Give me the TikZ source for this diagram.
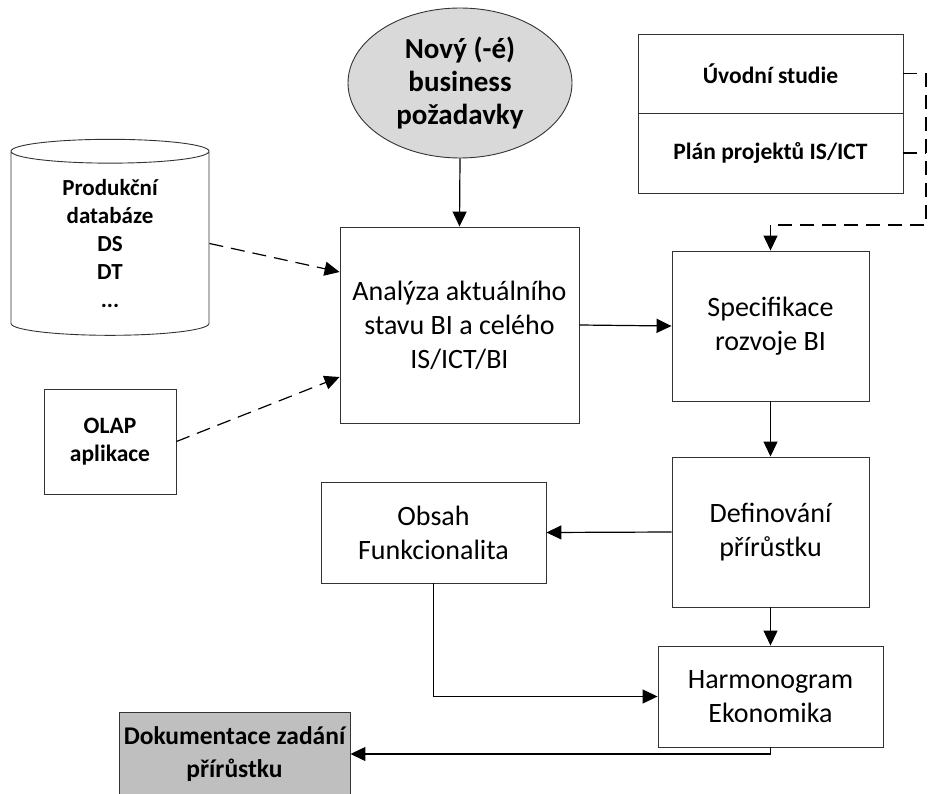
\documentclass[tikz,border=0pt]{standalone}
\usepackage{fontspec}
\setmainfont{Carlito}
\usetikzlibrary{shapes.geometric,arrows.meta}
\definecolor{goalgray}{RGB}{217,217,217}
\definecolor{resultgray}{RGB}{191,191,191}
\tikzset{
  box/.style={draw=black!80, line width=0.9pt, rectangle, align=center, inner sep=0pt,
    font=\fontsize{28}{34}\selectfont},
  boldbox/.style={box, font=\fontsize{23.5}{28}\selectfont\bfseries},
  goal/.style={draw=black!80, line width=0.9pt, ellipse, fill=goalgray, align=center, inner sep=0pt,
    minimum width=224pt, minimum height=150pt, font=\fontsize{29}{33}\selectfont\bfseries},
  database/.style={draw=black!80, line width=0.9pt, cylinder, shape border rotate=90, aspect=0.25,
    align=center, inner sep=0pt, minimum width=198pt, minimum height=196pt,
    font=\fontsize{23}{28}\selectfont\bfseries},
  result/.style={box, fill=resultgray, font=\fontsize{25.5}{33}\selectfont\bfseries},
  arrow/.style={line width=1.2pt, -{Triangle[length=15pt,width=14pt]}},
  dashedline/.style={line width=1.2pt, dash pattern=on 14pt off 8pt},
  dashedarrow/.style={dashedline, -{Triangle[length=15pt,width=14pt]}}
}
\begin{document}
\begin{tikzpicture}[x=1pt,y=-1pt]
  \useasboundingbox (0,0) rectangle (928,794);
  \node[goal] (pozadavky) at (460,83) {Nový (-é)\\business\\požadavky};
  \node[box, minimum width=239pt, minimum height=196pt] (analyza) at (459.5,325)
    {Analýza aktuálního\\stavu BI a celého\\IS/ICT/BI};
  \node[database] (databaze) at (110,243.5) {Produkční\\databáze\\DS\\DT\\...};
  \node[boldbox, minimum width=132pt, minimum height=105pt] (olap) at (110,441.5) {OLAP\\aplikace};
  \node[boldbox, minimum width=265pt, minimum height=79pt] (studie) at (770.5,73.5) {Úvodní studie};
  \node[boldbox, minimum width=265pt, minimum height=80pt] (plan) at (770.5,153) {Plán projektů IS/ICT};
  \node[box, minimum width=197pt, minimum height=150pt] (specifikace) at (770.5,326) {Specifikace\\rozvoje BI};
  \node[box, minimum width=197pt, minimum height=150pt] (definovani) at (770.5,532) {Definování\\přírůstku};
  \node[box, minimum width=225pt, minimum height=101pt] (obsah) at (433.5,532.5) {Obsah\\Funkcionalita};
  \node[box, minimum width=225pt, minimum height=101pt] (harmonogram) at (770.5,696.5) {Harmonogram\\Ekonomika};
  \node[result, minimum width=231pt, minimum height=84pt] (dokumentace) at (234.5,754)
    {Dokumentace zadání\\přírůstku};
  \coordinate (ohyb) at (926,225);

  \begin{scope}[arrow]
    \draw (pozadavky.south) -- (analyza.north);
    \draw (analyza.east) -- (specifikace.west);
    \draw (specifikace.south) -- (definovani.north);
    \draw (definovani.west) -- (obsah.east);
    \draw (definovani.south) -- (harmonogram.north);
    \draw (obsah.south) |- (harmonogram.west);
    \draw (harmonogram.south) |- (dokumentace.east);
  \end{scope}
  \begin{scope}[dashedline]
    \draw[dashedarrow] (databaze.east) -- ([yshift=53pt]analyza.west);
    \draw[dashedarrow] (olap.east) -- ([yshift=-52pt]analyza.west);
    \draw[dashedarrow] (studie.east) -| (ohyb) -| (specifikace.north);
    \draw (plan.east) -- (plan.east -| ohyb);
  \end{scope}
\end{tikzpicture}
\end{document}
